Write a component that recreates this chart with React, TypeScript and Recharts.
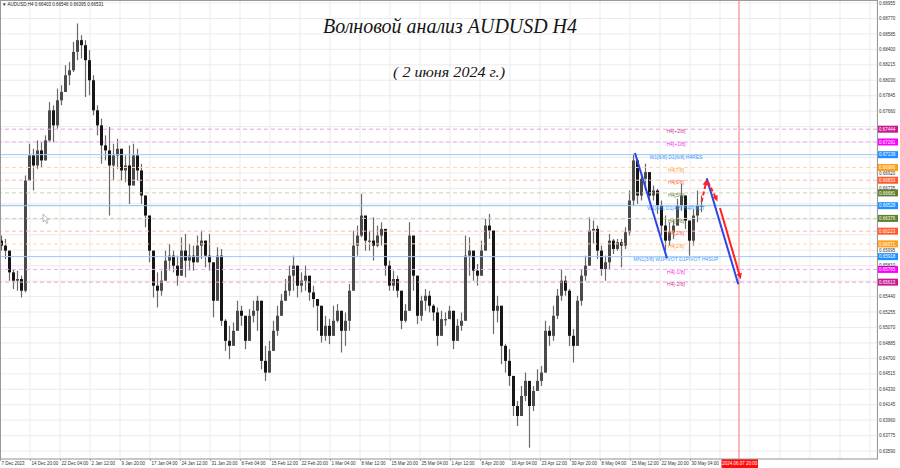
import React from 'react';
import { ComposedChart, Bar, XAxis, YAxis, CartesianGrid, ReferenceLine } from 'recharts';

const W = 900;
const H = 468;
const PLOT_W = 877;
const PLOT_H = 459;
const LABEL_CX = 676;
const SMALL_FONT = 'Liberation Sans, Arial, sans-serif';

const firstOpen = 0.6611;
const closes = [
  0.6605, 0.6599, 0.6573, 0.6563, 0.6565, 0.6551, 0.6683, 0.6713, 0.6701, 0.6719,
  0.6707, 0.6731, 0.6767, 0.6749, 0.6779, 0.6789, 0.6809, 0.6815, 0.6837, 0.6851,
  0.6845, 0.6827, 0.6803, 0.6767, 0.6749, 0.6725, 0.6719, 0.6701, 0.6713, 0.6721,
  0.6695, 0.6701, 0.6677, 0.6713, 0.6695, 0.6665, 0.6641, 0.6599, 0.6557, 0.6551,
  0.6563, 0.6587, 0.6593, 0.6581, 0.6569, 0.6599, 0.6587, 0.6593, 0.6585, 0.6605,
  0.6611, 0.6593, 0.6585, 0.6539, 0.6593, 0.6515, 0.6491, 0.6485, 0.6503, 0.6527,
  0.6521, 0.6491, 0.6521, 0.6527, 0.6539, 0.6467, 0.6453, 0.6479, 0.6503, 0.6521,
  0.6539, 0.6551, 0.6569, 0.6581, 0.6557, 0.6563, 0.6569, 0.6549, 0.6541, 0.6533,
  0.6497, 0.6509, 0.6497, 0.6515, 0.6527, 0.6503, 0.6515, 0.6551, 0.6605, 0.6617,
  0.6641, 0.6611, 0.6611, 0.6605, 0.6617, 0.6625, 0.6581, 0.6557, 0.6565, 0.6551,
  0.6515, 0.6527, 0.6617, 0.6569, 0.6521, 0.6539, 0.6545, 0.6533, 0.6525, 0.6497,
  0.6517, 0.6517, 0.6527, 0.6491, 0.6509, 0.6515, 0.6593, 0.6599, 0.6575, 0.6569,
  0.6599, 0.6629, 0.6623, 0.6527, 0.6533, 0.6485, 0.6467, 0.6449, 0.6413, 0.6401,
  0.6425, 0.6443, 0.6413, 0.6431, 0.6443, 0.6453, 0.6503, 0.6497, 0.6521, 0.6545,
  0.6563, 0.6551, 0.6497, 0.6485, 0.6539, 0.6569, 0.6581, 0.6623, 0.6625, 0.6599,
  0.6577, 0.6585, 0.6611, 0.6601, 0.6609, 0.6605, 0.6621, 0.6659, 0.6707, 0.6665,
  0.6685, 0.6693, 0.6665, 0.6671, 0.6653, 0.6629, 0.6611, 0.6621, 0.6629, 0.6653,
  0.6665, 0.6635, 0.6611, 0.6641, 0.6653, 0.6653,
];
const highs = [
  0.6617, 0.6613, 0.6593, 0.6577, 0.6575, 0.6569, 0.6689, 0.6727, 0.6721, 0.6731,
  0.6729, 0.6737, 0.6777, 0.6773, 0.6793, 0.6797, 0.6821, 0.6825, 0.6849, 0.6871,
  0.6857, 0.6851, 0.6839, 0.6809, 0.6773, 0.6757, 0.6737, 0.6747, 0.6727, 0.6733,
  0.6713, 0.6713, 0.6725, 0.6727, 0.6721, 0.6703, 0.6665, 0.6629, 0.6593, 0.6573,
  0.6575, 0.6599, 0.6607, 0.6599, 0.6593, 0.6615, 0.6619, 0.6607, 0.6605, 0.6617,
  0.6623, 0.6605, 0.6619, 0.6569, 0.6603, 0.6601, 0.6517, 0.6509, 0.6513, 0.6539,
  0.6533, 0.6521, 0.6529, 0.6539, 0.6545, 0.6509, 0.6485, 0.6491, 0.6515, 0.6533,
  0.6547, 0.6565, 0.6581, 0.6593, 0.6575, 0.6573, 0.6581, 0.6563, 0.6557, 0.6541,
  0.6527, 0.6521, 0.6517, 0.6533, 0.6535, 0.6521, 0.6525, 0.6559, 0.6623, 0.6629,
  0.6667, 0.6629, 0.6623, 0.6639, 0.6629, 0.6633, 0.6617, 0.6587, 0.6575, 0.6569,
  0.6539, 0.6535, 0.6633, 0.6611, 0.6563, 0.6545, 0.6553, 0.6551, 0.6535, 0.6531,
  0.6527, 0.6525, 0.6533, 0.6515, 0.6517, 0.6525, 0.6617, 0.6615, 0.6593, 0.6583,
  0.6611, 0.6637, 0.6643, 0.6621, 0.6545, 0.6517, 0.6487, 0.6481, 0.6445, 0.6419,
  0.6437, 0.6453, 0.6437, 0.6437, 0.6457, 0.6461, 0.6515, 0.6509, 0.6533, 0.6553,
  0.6577, 0.6569, 0.6553, 0.6505, 0.6545, 0.6577, 0.6593, 0.6639, 0.6635, 0.6629,
  0.6605, 0.6593, 0.6619, 0.6613, 0.6613, 0.6613, 0.6627, 0.6671, 0.6715, 0.6709,
  0.6691, 0.6703, 0.6683, 0.6677, 0.6673, 0.6659, 0.6641, 0.6633, 0.6635, 0.6661,
  0.6679, 0.6661, 0.6629, 0.6649, 0.6671, 0.6665,
];
const lows = [
  0.6599, 0.6589, 0.6563, 0.6553, 0.6551, 0.6543, 0.6549, 0.6689, 0.6671, 0.6697,
  0.6699, 0.6713, 0.6729, 0.6729, 0.6745, 0.6773, 0.6791, 0.6797, 0.6813, 0.6827,
  0.6829, 0.6783, 0.6785, 0.6761, 0.6737, 0.6703, 0.6707, 0.6641, 0.6683, 0.6697,
  0.6683, 0.6681, 0.6655, 0.6685, 0.6683, 0.6655, 0.6627, 0.6585, 0.6543, 0.6531,
  0.6545, 0.6569, 0.6575, 0.6573, 0.6557, 0.6585, 0.6567, 0.6575, 0.6575, 0.6585,
  0.6589, 0.6579, 0.6575, 0.6519, 0.6539, 0.6509, 0.6479, 0.6469, 0.6485, 0.6515,
  0.6509, 0.6481, 0.6505, 0.6513, 0.6503, 0.6457, 0.6443, 0.6461, 0.6485, 0.6497,
  0.6521, 0.6539, 0.6545, 0.6551, 0.6543, 0.6549, 0.6551, 0.6539, 0.6531, 0.6503,
  0.6489, 0.6491, 0.6487, 0.6503, 0.6513, 0.6477, 0.6485, 0.6503, 0.6551, 0.6593,
  0.6615, 0.6599, 0.6599, 0.6587, 0.6603, 0.6605, 0.6569, 0.6551, 0.6551, 0.6543,
  0.6505, 0.6513, 0.6527, 0.6551, 0.6511, 0.6515, 0.6527, 0.6525, 0.6515, 0.6485,
  0.6509, 0.6509, 0.6517, 0.6481, 0.6497, 0.6503, 0.6515, 0.6569, 0.6563, 0.6557,
  0.6587, 0.6605, 0.6613, 0.6499, 0.6513, 0.6463, 0.6453, 0.6437, 0.6401, 0.6389,
  0.6407, 0.6419, 0.6363, 0.6407, 0.6431, 0.6437, 0.6455, 0.6485, 0.6491, 0.6517,
  0.6539, 0.6545, 0.6485, 0.6465, 0.6485, 0.6533, 0.6563, 0.6585, 0.6607, 0.6589,
  0.6569, 0.6563, 0.6577, 0.6595, 0.6599, 0.6579, 0.6601, 0.6617, 0.6653, 0.6655,
  0.6659, 0.6671, 0.6659, 0.6659, 0.6643, 0.6617, 0.6599, 0.6605, 0.6613, 0.6629,
  0.6647, 0.6625, 0.6593, 0.6605, 0.6633, 0.6645,
];

const priceTicks = [
  0.68955, 0.6877, 0.68585, 0.684, 0.68215, 0.6803, 0.67845, 0.6766, 0.67475, 0.6729,
  0.67105, 0.6692, 0.66735, 0.6655, 0.66365, 0.6618, 0.65995, 0.6581, 0.65625, 0.6544,
  0.65255, 0.6507, 0.64885, 0.647, 0.64515, 0.6433, 0.64145, 0.6396, 0.63775, 0.6359,
];

const timeTicks = [
  -0.5, 7, 14.5, 22, 29.5, 37, 44.5, 52, 59.5, 67, 74.5, 82, 89.5, 97, 104.5,
  112, 119.5, 127, 134.5, 142, 149.5, 157, 164.5, 172, 179.5, 187, 194.5, 202, 209.5, 217,
];
const timeLabels = [
  '7 Dec 2023', '14 Dec 20:00', '22 Dec 04:00', '2 Jan 12:00', '9 Jan 20:00', '17 Jan 04:00',
  '24 Jan 12:00', '31 Jan 20:00', '8 Feb 04:00', '15 Feb 12:00', '22 Feb 20:00', '1 Mar 04:00',
  '8 Mar 12:00', '15 Mar 20:00', '25 Mar 04:00', '1 Apr 12:00', '8 Apr 20:00', '16 Apr 04:00',
  '23 Apr 12:00', '30 Apr 20:00', '8 May 04:00', '15 May 12:00', '22 May 20:00', '30 May 04:00',
];

const levelValues = [
  0.67444, 0.67291, 0.67139, 0.66986, 0.66833, 0.66681, 0.66528,
  0.66376, 0.66223, 0.66071, 0.65918, 0.65765, 0.65613,
];
const levelNames = [
  'H4[+2/8]', 'H4[+1/8]', 'W1[6/8] D1[6/8] H4RES', 'H4[7/8]', 'H4[6/8]', 'H4[5/8]',
  'W1[4/8] D1[4/8] H4PIVOT', 'H4[3/8]', 'H4[2/8]', 'H4[1/8]',
  'MN1[3/8] W1PIVOT D1PIVOT H4SUP', 'H4[-1/8]', 'H4[-2/8]',
];
const levelBoxColors = [
  '#c8188f', '#ff00ff', '#1e90ff', '#ffa018', '#ff5a2a', '#5f7f2a', '#1e90ff',
  '#5f7f2a', '#ff5a2a', '#ffa018', '#1e90ff', '#ff00ff', '#c8188f',
];
const levelTextColors = [
  '#d0369c', '#f030f0', '#3a9af8', '#ff9a30', '#ff5a3a', '#6e7a3a', '#3a9af8',
  '#6e7a3a', '#ff5a3a', '#ff9a30', '#3a9af8', '#f030f0', '#d0369c',
];
const levelLineColors = [
  '#eaa0d6', '#f5a8f5', '#9cc9f7', '#ffd8a8', '#ffbcaa', '#cfd0ac', '#8ec0f2',
  '#cfd0ac', '#ffbcaa', '#ffd8a8', '#9cc9f7', '#f5a8f5', '#eaa0d6',
];
const levelDashed = [true, true, false, true, true, true, false, true, true, true, false, true, true];

const forecastDateIdx = 184.25;
const forecastDateLabel = '2024.06.07 20:00';

const waveBlue1 = [{ x: 158.25, y: 0.67159 }, { x: 166.25, y: 0.65898 }];
const waveBlue2 = [{ x: 176.18, y: 0.66856 }, { x: 184.08, y: 0.65587 }];
const waveRedUp = [{ x: 174.9, y: 0.66576 }, { x: 176.2, y: 0.66844 }];
const waveRedDown = [{ x: 176.5, y: 0.66812 }, { x: 178.9, y: 0.66578 }];
const waveRedMain = [{ x: 179.5, y: 0.665 }, { x: 184.7, y: 0.65647 }];

const candles = closes.map((c, i) => {
  const o = i === 0 ? firstOpen : closes[i - 1];
  const h = Math.max(highs[i], o, c);
  const l = Math.min(lows[i], o, c);
  return { i, o, c, h, l, range: [l, h] };
});

const Candle = (props: any) => {
  const { x, y, width, height, payload } = props;
  if (x == null || y == null || !payload) return null;
  const cx = x + width / 2;
  const top = Math.min(y, y + height);
  const bot = Math.max(y, y + height);
  const hi = payload.h;
  const lo = payload.l;
  const span = hi - lo || 1e-9;
  const py = (p: number) => top + ((hi - p) / span) * (bot - top);
  const yo = py(payload.o);
  const yc = py(payload.c);
  const bull = payload.c >= payload.o;
  return (
    <g>
      <line x1={cx} x2={cx} y1={top} y2={bot} stroke="#6a6a6a" strokeWidth={1.2} />
      <rect
        x={cx - 1.5}
        y={Math.min(yo, yc)}
        width={3}
        height={Math.max(1.2, Math.abs(yc - yo))}
        fill={bull ? '#4a4a4a' : '#161616'}
      />
    </g>
  );
};

const TimeTick = (props: any) => {
  const { x, y, payload } = props;
  const k = timeTicks.indexOf(payload.value);
  const label = timeLabels[k];
  if (!label) return <g />;
  return (
    <g>
      <line x1={x + 0.5} x2={x + 0.5} y1={y} y2={y + 2} stroke="#777" strokeWidth={0.6} />
      <text x={x + 1.5} y={y + 6} fontSize={4.5} fontFamily={SMALL_FONT} fill="#333">
        {label}
      </text>
    </g>
  );
};

const PriceTick = (props: any) => {
  const { x, y, payload } = props;
  const v = payload.value as number;
  if (levelValues.some((l) => Math.abs(l - v) < 0.00044)) return <g />;
  return (
    <text x={x + 2} y={y + 1.6} fontSize={4.5} fontFamily={SMALL_FONT} fill="#333">
      {v.toFixed(5)}
    </text>
  );
};

const makeLevelLabel = (idx: number) => (props: any) => {
  const vb = props.viewBox || {};
  const x0 = vb.x ?? 0;
  const y = vb.y ?? 0;
  const w = vb.width ?? PLOT_W;
  return (
    <g>
      <text
        x={x0 + LABEL_CX}
        y={y + 4.2}
        textAnchor="middle"
        fontSize={5}
        fontFamily={SMALL_FONT}
        fill={levelTextColors[idx]}
      >
        {levelNames[idx]}
      </text>
      <rect x={x0 + w + 1} y={y - 3.5} width={20} height={7} fill={levelBoxColors[idx]} />
      <text x={x0 + w + 2} y={y + 1.7} fontSize={4.5} fontFamily={SMALL_FONT} fill="#ffffff">
        {levelValues[idx].toFixed(5)}
      </text>
    </g>
  );
};

const dateLabel = (props: any) => {
  const vb = props.viewBox || {};
  const cx = vb.x ?? 0;
  const bottom = (vb.y ?? 0) + (vb.height ?? PLOT_H);
  return (
    <g>
      <rect x={cx - 17.5} y={bottom} width={36.5} height={9} fill="#ff0d0d" />
      <text x={cx + 0.7} y={bottom + 6.3} textAnchor="middle" fontSize={4.5} fontFamily={SMALL_FONT} fill="#ffffff">
        {forecastDateLabel}
      </text>
    </g>
  );
};

const makeArrow = (color: string, dashed: boolean, head: boolean) => (props: any) => {
  const { x1, y1, x2, y2 } = props;
  if ([x1, y1, x2, y2].some((v) => v == null || Number.isNaN(v))) return <g />;
  const dx = x2 - x1;
  const dy = y2 - y1;
  const len = Math.hypot(dx, dy) || 1;
  const ux = dx / len;
  const uy = dy / len;
  const hl = 6;
  const hw = 2.8;
  const bx = x2 - ux * hl;
  const by = y2 - uy * hl;
  return (
    <g>
      <line
        x1={x1}
        y1={y1}
        x2={head ? bx + ux * 1 : x2}
        y2={head ? by + uy * 1 : y2}
        stroke={color}
        strokeWidth={2}
        strokeDasharray={dashed ? '4 2.5' : undefined}
      />
      {head && (
        <polygon
          points={`${x2},${y2} ${bx - uy * hw},${by + ux * hw} ${bx + uy * hw},${by - ux * hw}`}
          fill={color}
        />
      )}
    </g>
  );
};

export default function App() {
  return (
    <div style={{ position: 'absolute', left: 0, top: 0, width: W, height: H, background: '#ffffff' }}>
      <ComposedChart width={W} height={H} data={candles} margin={{ top: 0, right: 0, bottom: 0, left: 0 }}>
        <CartesianGrid stroke="#ebebeb" strokeWidth={1} />
        <XAxis
          dataKey="i"
          type="number"
          domain={[-0.5, 218.75]}
          ticks={timeTicks}
          interval={0}
          allowDataOverflow
          height={H - PLOT_H}
          tickSize={0}
          tickMargin={0}
          axisLine={false}
          tickLine={false}
          tick={TimeTick}
        />
        <YAxis
          orientation="right"
          type="number"
          domain={[0.63495, 0.68991]}
          ticks={priceTicks}
          interval={0}
          allowDataOverflow
          width={W - PLOT_W}
          tickSize={0}
          tickMargin={0}
          axisLine={false}
          tickLine={false}
          tick={PriceTick}
        />
        {levelValues.map((v, idx) => (
          <ReferenceLine
            key={`lvl-${idx}`}
            y={v}
            stroke={levelLineColors[idx]}
            strokeWidth={1}
            strokeDasharray={levelDashed[idx] ? '4 3' : undefined}
            label={makeLevelLabel(idx)}
          />
        ))}
        <ReferenceLine x={forecastDateIdx} stroke="#f4a0a0" strokeWidth={1.5} label={dateLabel} />
        <Bar dataKey="range" barSize={3} isAnimationActive={false} shape={Candle} />
        <ReferenceLine segment={waveBlue1} ifOverflow="visible" shape={makeArrow('#2b45e6', false, false)} />
        <ReferenceLine segment={waveBlue2} ifOverflow="visible" shape={makeArrow('#2b45e6', false, false)} />
        <ReferenceLine segment={waveRedUp} ifOverflow="visible" shape={makeArrow('#ff2020', true, true)} />
        <ReferenceLine segment={waveRedDown} ifOverflow="visible" shape={makeArrow('#ff2020', true, true)} />
        <ReferenceLine segment={waveRedMain} ifOverflow="visible" shape={makeArrow('#ff2020', false, true)} />
      </ComposedChart>
      <svg
        width={W}
        height={H}
        style={{ position: 'absolute', left: 0, top: 0, pointerEvents: 'none' }}
      >
        <rect x={0.5} y={0.5} width={PLOT_W} height={PLOT_H - 0.5} fill="none" stroke="#9a9a9a" strokeWidth={1} />
        <text x={2} y={5.8} fontSize={4.5} fontFamily={SMALL_FONT} fill="#222">
          ▼ AUDUSD,H4  0.66403 0.66546 0.66395 0.66531
        </text>
        <text
          x={323}
          y={33}
          fontSize={20}
          fontStyle="italic"
          fontFamily="Liberation Serif, DejaVu Serif, serif"
          textLength={254}
          lengthAdjust="spacingAndGlyphs"
          fill="#151515"
        >
          Волновой анализ AUDUSD H4
        </text>
        <text
          x={393}
          y={77}
          fontSize={14}
          fontStyle="italic"
          fontFamily="Liberation Serif, DejaVu Serif, serif"
          textLength={112}
          lengthAdjust="spacingAndGlyphs"
          fill="#151515"
        >
          ( 2 июня 2024 г.)
        </text>
        <polygon
          points="43,214 43,222 45,220.3 46.8,223.5 48,222.8 46.3,219.8 48.8,219.6"
          fill="#ffffff"
          stroke="#8a8a8a"
          strokeWidth={0.6}
        />
      </svg>
    </div>
  );
}
